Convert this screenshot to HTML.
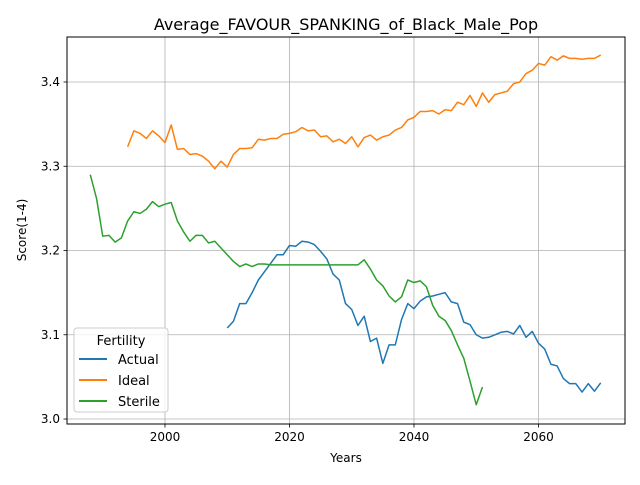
<!DOCTYPE html>
<html><head><meta charset="utf-8"><style>
body{margin:0;background:#fff;font-family:"Liberation Sans","DejaVu Sans",sans-serif;}
svg text{font-family:"DejaVu Sans","Liberation Sans",sans-serif;}
</style></head><body>
<svg id="chart" width="640" height="480">
<rect width="640" height="480" fill="#fff"/>
<g id="grid"></g>
<g id="series"></g>
<rect x="67" y="37" width="558" height="387" fill="none" stroke="#000" stroke-width="1"/>
<g id="ticks"></g>
<text x="346" y="30" text-anchor="middle" font-size="16">Average_FAVOUR_SPANKING_of_Black_Male_Pop</text>
<text x="346" y="462" text-anchor="middle" font-size="12">Years</text>
<text x="26" y="230" text-anchor="middle" font-size="12" transform="rotate(-90 26 230)">Score(1-4)</text>
<g>
<rect x="74" y="328" width="94" height="84" rx="3" fill="#fff" fill-opacity="0.8" stroke="#ccc"/>
<text x="121" y="345" text-anchor="middle" font-size="13">Fertility</text>
<line x1="79" x2="107" y1="359" y2="359" stroke="#1f77b4" stroke-width="2"/>
<text x="118" y="364" font-size="13">Actual</text>
<line x1="79" x2="107" y1="380" y2="380" stroke="#ff7f0e" stroke-width="2"/>
<text x="118" y="385" font-size="13">Ideal</text>
<line x1="79" x2="107" y1="401" y2="401" stroke="#2ca02c" stroke-width="2"/>
<text x="118" y="406" font-size="13">Sterile</text>
</g>
</svg>
<script>
const actualStart = 2010;
const actualValues = [3.108,3.116,3.137,3.137,3.150,3.165,3.175,3.185,3.195,3.195,3.206,3.205,3.211,3.210,3.207,3.199,3.190,3.172,3.165,3.137,3.130,3.111,3.122,3.092,3.096,3.066,3.088,3.088,3.118,3.137,3.131,3.140,3.145,3.146,3.148,3.150,3.139,3.137,3.115,3.112,3.100,3.096,3.097,3.100,3.103,3.104,3.101,3.111,3.097,3.104,3.090,3.083,3.065,3.063,3.048,3.042,3.042,3.032,3.042,3.033,3.043];
const idealStart = 1994;
const idealValues = [3.323,3.342,3.339,3.333,3.342,3.336,3.328,3.349,3.320,3.321,3.314,3.315,3.312,3.306,3.297,3.306,3.299,3.314,3.321,3.321,3.322,3.332,3.331,3.333,3.333,3.338,3.339,3.341,3.346,3.342,3.343,3.335,3.336,3.329,3.332,3.327,3.335,3.323,3.334,3.337,3.331,3.335,3.337,3.343,3.346,3.355,3.358,3.365,3.365,3.366,3.362,3.367,3.366,3.376,3.373,3.384,3.371,3.387,3.376,3.385,3.387,3.389,3.398,3.400,3.410,3.414,3.422,3.420,3.430,3.426,3.431,3.428,3.428,3.427,3.428,3.428,3.432];
const sterileStart = 1988;
const sterileValues = [3.290,3.262,3.217,3.218,3.210,3.215,3.235,3.246,3.244,3.249,3.258,3.252,3.255,3.257,3.235,3.222,3.211,3.218,3.218,3.209,3.211,3.203,3.195,3.187,3.181,3.184,3.181,3.184,3.184,3.183,3.183,3.183,3.183,3.183,3.183,3.183,3.183,3.183,3.183,3.183,3.183,3.183,3.183,3.183,3.189,3.178,3.165,3.158,3.146,3.139,3.145,3.165,3.162,3.164,3.157,3.135,3.122,3.117,3.105,3.088,3.072,3.045,3.017,3.038];
const xTicks = [2000,2020,2040,2060];
const yTicks = [3.0,3.1,3.2,3.3,3.4];
const yTickLabels = ["3.0","3.1","3.2","3.3","3.4"];

const X0=67,X1=625,Y0=424,Y1=37;
const xMin=1984.26,xMax=2073.9,yMin=2.9941,yMax=3.4534;
function sx(v){return X0+(v-xMin)/(xMax-xMin)*(X1-X0);}
function sy(v){return Y0-(v-yMin)/(yMax-yMin)*(Y0-Y1);}
const NS="http://www.w3.org/2000/svg";
const grid=document.getElementById('grid'),ticks=document.getElementById('ticks'),series=document.getElementById('series');
function mk(tag,attrs,parent){const e=document.createElementNS(NS,tag);for(const k in attrs)e.setAttribute(k,attrs[k]);parent.appendChild(e);return e;}
xTicks.forEach(t=>{
  const x=sx(t);
  const g=mk('line',{x1:x,x2:x,y1:Y1,y2:Y0,stroke:'#b0b0b0','stroke-width':0.8},grid);
  
  
  mk('line',{x1:x,x2:x,y1:Y0,y2:Y0+3.5,stroke:'#000','stroke-width':0.8},ticks);
  const tx=mk('text',{x:x,y:Y0+17,'text-anchor':'middle','font-size':12},ticks);
  tx.textContent=t;
  
  
});
yTicks.forEach((t,i)=>{
  const y=sy(t);
  const g=mk('line',{x1:X0,x2:X1,y1:y,y2:y,stroke:'#b0b0b0','stroke-width':0.8},grid);
  
  
  mk('line',{x1:X0-3.5,x2:X0,y1:y,y2:y,stroke:'#000','stroke-width':0.8},ticks);
  const tx=mk('text',{x:X0-7,y:y+4,'text-anchor':'end','font-size':12},ticks);
  tx.textContent=yTickLabels[i];
  
  
});
function drawLine(start,vals,color,name){
  const pts=vals.map((v,i)=>sx(start+i).toFixed(2)+','+sy(v).toFixed(2)).join(' ');
  const p=mk('polyline',{points:pts,fill:'none',stroke:color,'stroke-width':1.5,'stroke-linejoin':'round'},series);
  
  
}
drawLine(actualStart,actualValues,'#1f77b4','actual-line');
drawLine(idealStart,idealValues,'#ff7f0e','ideal-line');
drawLine(sterileStart,sterileValues,'#2ca02c','sterile-line');
</script>
</body></html>
